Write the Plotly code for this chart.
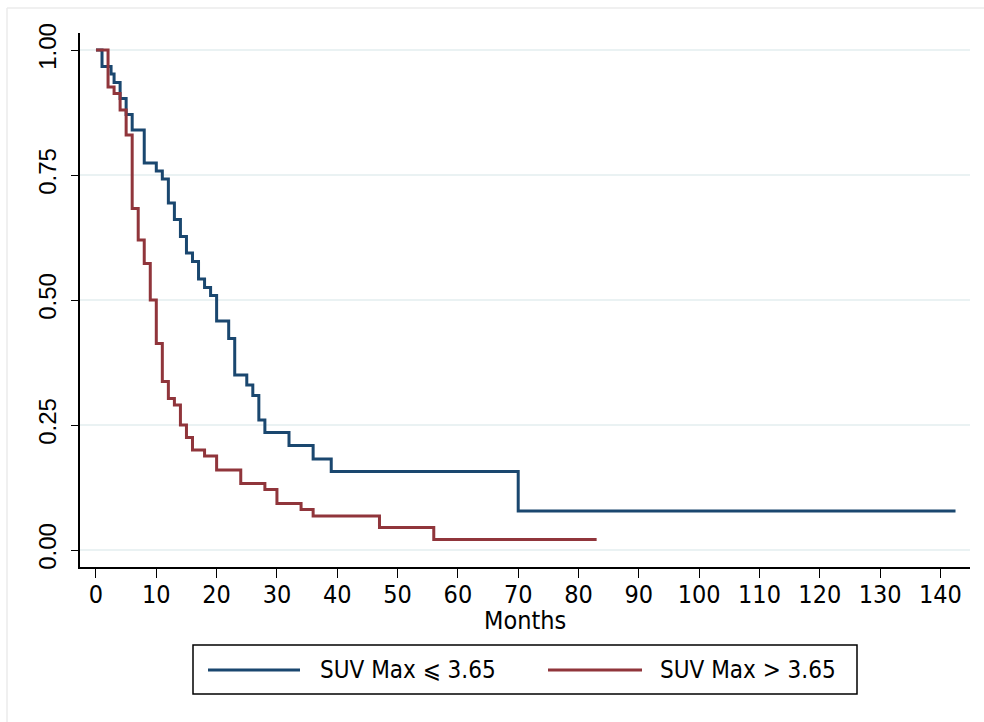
import plotly.graph_objects as go

# ---- data ----
series_names = ["SUV Max \u2a7d 3.65", "SUV Max > 3.65"]

blue_t = [0, 1, 2.5, 3, 4, 5, 6, 8, 10, 11, 12, 13, 14, 15, 16, 17, 18, 19, 20,
          22, 23, 25, 26, 27, 28, 32, 36, 39, 70, 142.5]
blue_s = [1.0, 0.967, 0.952, 0.935, 0.903, 0.871, 0.84, 0.774, 0.758, 0.742, 0.694,
          0.661, 0.627, 0.594, 0.577, 0.542, 0.525, 0.509, 0.458, 0.423, 0.35, 0.33,
          0.309, 0.26, 0.235, 0.209, 0.182, 0.157, 0.078, 0.078]

red_t = [0, 2, 3, 4, 5, 6, 7, 8, 9, 10, 11, 12, 13, 14, 15, 16, 18, 20, 24, 28,
         30, 34, 36, 47, 56, 83]
red_s = [1.0, 0.926, 0.913, 0.88, 0.83, 0.683, 0.62, 0.573, 0.50, 0.413, 0.337,
         0.303, 0.29, 0.25, 0.225, 0.20, 0.188, 0.16, 0.133, 0.121, 0.093, 0.081,
         0.068, 0.045, 0.021, 0.021]

x_ticks = list(range(0, 141, 10))
y_ticks = [0, 0.25, 0.5, 0.75, 1.0]
y_ticktext = ["0.00", "0.25", "0.50", "0.75", "1.00"]
x_title = "Months"

# ---- style ----
NAVY = "#1a476f"
MAROON = "#90353b"
GRID = "#eaf2f3"
NARROW = "Liberation Sans Narrow, DejaVu Sans Condensed, Arial Narrow, Liberation Sans, sans-serif"
REG = "Liberation Sans, Arial, sans-serif"

W, H = 984, 722
L, R, T, B = 80, 14, 33, 155
PW, PH = W - L - R, H - T - B


def px(xp):
    return (xp - L) / PW


def py(yp):
    return (H - B - yp) / PH


fig = go.Figure()
fig.add_trace(go.Scatter(x=blue_t, y=blue_s, mode="lines", line_shape="hv",
                         line=dict(color=NAVY, width=3), name=series_names[0],
                         showlegend=False))
fig.add_trace(go.Scatter(x=red_t, y=red_s, mode="lines", line_shape="hv",
                         line=dict(color=MAROON, width=3), name=series_names[1],
                         showlegend=False))

fig.update_layout(
    width=W, height=H,
    margin=dict(l=L, r=R, t=T, b=B, autoexpand=False),
    paper_bgcolor="white", plot_bgcolor="white",
    showlegend=False,
    xaxis=dict(range=[-2.65, 144.9], tickvals=x_ticks, ticks="outside", ticklen=9,
               tickwidth=1.2, tickcolor="black", showline=True, linecolor="black",
               linewidth=1.5, showgrid=False, zeroline=False, ticklabelstandoff=-5,
               tickfont=dict(family=NARROW, size=25, color="black")),
    yaxis=dict(range=[-0.034, 1.034], tickvals=y_ticks, ticktext=y_ticktext,
               tickangle=-90, ticks="outside", ticklen=7, tickwidth=1.2,
               tickcolor="black", showline=True, linecolor="black", linewidth=1.5,
               showgrid=True, gridcolor=GRID, gridwidth=2, zeroline=False,
               ticklabelstandoff=6,
               tickfont=dict(family=REG, size=24, color="black")),
)

# x-axis title
fig.add_annotation(xref="paper", yref="paper", x=0.5, y=py(620), text=x_title,
                   showarrow=False, xanchor="center", yanchor="middle",
                   font=dict(family=NARROW, size=25, color="black"))

# faint outer frame (top and left edges)
fig.add_shape(type="line", xref="paper", yref="paper", x0=px(7), x1=px(984),
              y0=py(8), y1=py(8), line=dict(color="#ebebeb", width=1.5))
fig.add_shape(type="line", xref="paper", yref="paper", x0=px(7), x1=px(7),
              y0=py(8), y1=py(722), line=dict(color="#ebebeb", width=1.5))

# legend box
fig.add_shape(type="rect", xref="paper", yref="paper", x0=px(193), x1=px(857),
              y0=py(694), y1=py(645), line=dict(color="black", width=1.5),
              fillcolor="white")
ly = py(670)
for (x0, x1, tx), col, name in zip([(208, 300, 318), (548, 642, 658)],
                                   [NAVY, MAROON], series_names):
    fig.add_shape(type="line", xref="paper", yref="paper", x0=px(x0), x1=px(x1),
                  y0=ly, y1=ly, line=dict(color=col, width=3))
    fig.add_annotation(xref="paper", yref="paper", x=px(tx), y=ly, text=name,
                       showarrow=False, xanchor="left", yanchor="middle",
                       font=dict(family=NARROW, size=24, color="black"))

fig.write_html("out.html")
